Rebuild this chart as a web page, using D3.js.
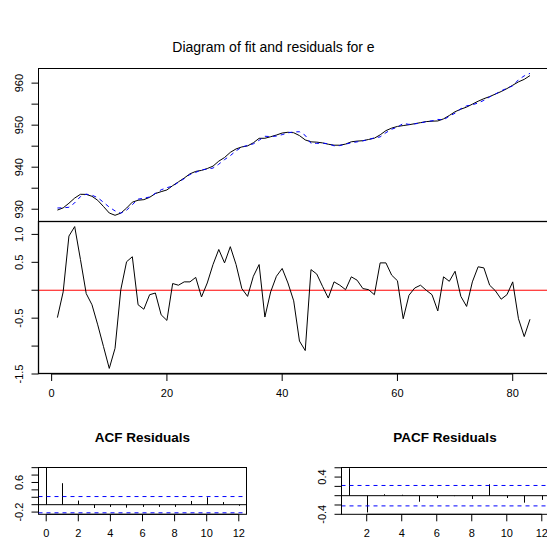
<!DOCTYPE html>
<html><head><meta charset="utf-8">
<script src="https://cdn.jsdelivr.net/npm/d3@7"></script>
<style>body{margin:0;background:#fff}svg{display:block}text{font-family:"Liberation Sans",Arial,Helvetica,sans-serif;fill:#000}</style>
</head><body>
<script>
// ---- data ----
const actual = [929.80,930.32,931.43,932.66,933.55,933.53,933.08,932.12,930.64,929.10,928.56,929.07,930.27,931.68,932.14,932.28,932.83,933.73,934.18,934.59,935.61,936.51,937.42,938.42,939.00,939.24,939.68,940.25,941.44,942.30,943.53,944.35,944.82,945.07,945.81,946.87,946.88,947.25,947.65,948.13,948.31,948.20,947.52,946.49,946.03,945.96,945.78,945.46,945.24,945.23,945.50,946.05,946.21,946.30,946.60,946.90,947.70,948.70,949.30,949.70,949.90,950.10,950.35,950.60,950.85,950.95,951.00,951.50,952.30,953.20,953.80,954.30,955.00,955.70,956.30,956.80,957.40,958.00,958.70,959.50,960.30,960.90,961.80];
const fitted = [930.29,930.35,930.46,931.52,933.00,933.59,933.34,932.74,931.65,930.50,929.60,929.06,929.76,931.08,932.40,932.62,932.91,933.78,934.62,935.13,935.49,936.42,937.27,938.27,938.77,939.36,939.55,939.79,940.71,941.81,942.75,943.89,944.79,945.18,945.56,946.41,947.36,947.28,947.40,947.74,948.18,948.39,948.43,947.57,945.66,945.67,945.71,945.60,945.09,945.14,945.49,945.81,946.03,946.27,946.59,946.98,947.21,948.21,949.03,949.53,950.41,950.19,950.31,950.51,950.85,951.03,951.37,951.26,952.14,952.86,953.91,954.59,954.85,955.28,955.90,956.71,957.41,958.16,958.78,959.35,960.81,961.73,962.32];
const resid = [-0.49,-0.03,0.97,1.14,0.55,-0.06,-0.26,-0.62,-1.01,-1.40,-1.04,0.01,0.51,0.60,-0.26,-0.34,-0.08,-0.05,-0.44,-0.54,0.12,0.09,0.15,0.15,0.23,-0.12,0.13,0.46,0.73,0.49,0.78,0.46,0.03,-0.11,0.25,0.46,-0.48,-0.03,0.25,0.39,0.13,-0.19,-0.91,-1.08,0.37,0.29,0.07,-0.14,0.15,0.09,0.01,0.24,0.18,0.03,0.01,-0.08,0.49,0.49,0.27,0.17,-0.51,-0.09,0.04,0.09,0.00,-0.08,-0.37,0.24,0.16,0.34,-0.11,-0.29,0.15,0.42,0.40,0.09,-0.01,-0.16,-0.08,0.15,-0.51,-0.83,-0.52];
const acfLags = [0,1,2,3,4,5,6,7,8,9,10,11,12];
const acfVals = [1.00,0.58,0.11,-0.09,-0.06,-0.08,-0.06,-0.06,-0.06,0.10,0.20,0.07,-0.03];
const pacfLags = [1,2,3,4,5,6,7,8,9,10,11,12];
const pacfVals = [0.59,-0.36,0.03,0.02,-0.13,-0.05,-0.01,-0.07,0.245,-0.05,-0.15,-0.09];
const confLimit = 0.2195;
const topTicks = [930,935,940,945,950,955,960];
const topLabels = [930,940,950,960];
const resTicks = [-1.5,-1.0,-0.5,0,0.5,1.0];
const resLabels = [-1.5,-0.5,0.5,1.0];
const timeTicks = [0,20,40,60,80];
const acfYTicks = [-0.2,0,0.2,0.4,0.6,0.8,1.0];
const acfYLabels = [-0.2,0.6];
const acfXTicks = [0,2,4,6,8,10,12];
const pacfYTicks = [-0.4,-0.2,0,0.2,0.4,0.6];
const pacfYLabels = [-0.4,0.4];
const pacfXTicks = [2,4,6,8,10,12];
const title = "Diagram of fit and residuals for e";

const W=547,H=541;
const svg=d3.select("body").append("svg").attr("width",W).attr("height",H);
const t = d3.range(1, actual.length+1);

svg.append("text").attr("x",273.5).attr("y",52).attr("text-anchor","middle").style("font-size","14px").text(title);

const x = d3.scaleLinear().domain([-2.28,86.28]).range([38.5,548.9]);
const yTop = d3.scaleLinear().domain([927.2,963.6]).range([221,68]);
const yRes = d3.scaleLinear().domain([-1.50,1.24]).range([374,221]);

function yAxisLeft(g, scale, ticks, labels, xPos, fmt){
  g.append("line").attr("x1",xPos).attr("x2",xPos).attr("y1",scale(d3.min(ticks))).attr("y2",scale(d3.max(ticks))).attr("stroke","#000");
  ticks.forEach(v=>{
    g.append("line").attr("x1",xPos-7).attr("x2",xPos).attr("y1",scale(v)).attr("y2",scale(v)).attr("stroke","#000");
  });
  labels.forEach(v=>{
    g.append("text").attr("transform",`translate(${xPos-15.5},${scale(v)}) rotate(-90)`).attr("text-anchor","middle").style("font-size","11px").text(fmt(v));
  });
}
function xAxisBottom(g, scale, ticks, yPos){
  g.append("line").attr("x1",scale(d3.min(ticks))).attr("x2",scale(d3.max(ticks))).attr("y1",yPos).attr("y2",yPos).attr("stroke","#000");
  ticks.forEach(v=>{
    g.append("line").attr("x1",scale(v)).attr("x2",scale(v)).attr("y1",yPos).attr("y2",yPos+7).attr("stroke","#000");
    g.append("text").attr("x",scale(v)).attr("y",yPos+23).attr("text-anchor","middle").style("font-size","11px").text(v);
  });
}
const cr = n=>Math.round(n)+0.5;
const f1 = d=>d3.format(".1f")(d).replace("\u2212","-");

// ---- top panel ----
const gTop = svg.append("g");
gTop.append("rect").attr("x",38.5).attr("y",68.5).attr("width",520).attr("height",153).attr("fill","none").attr("stroke","#000");
gTop.append("path").datum(t).attr("fill","none").attr("stroke","#000").attr("stroke-width",1)
  .attr("d",d3.line().x(d=>x(d)).y((d,i)=>yTop(actual[i])));
gTop.append("path").datum(t).attr("fill","none").attr("stroke","#0000ff").attr("stroke-width",1).attr("stroke-dasharray","4,4")
  .attr("d",d3.line().x(d=>x(d)).y((d,i)=>yTop(fitted[i])));
yAxisLeft(gTop, yTop, topTicks, topLabels, 38.5, d=>d);

// ---- residual panel ----
const gRes = svg.append("g");
gRes.append("rect").attr("x",38.5).attr("y",221.5).attr("width",520).attr("height",152).attr("fill","none").attr("stroke","#000").attr("stroke-width",1.3);
gRes.append("line").attr("x1",38.5).attr("x2",W).attr("y1",yRes(0)).attr("y2",yRes(0)).attr("stroke","#ff0000");
gRes.append("path").datum(t).attr("fill","none").attr("stroke","#000").attr("stroke-width",1)
  .attr("d",d3.line().x(d=>x(d)).y((d,i)=>yRes(resid[i])));
yAxisLeft(gRes, yRes, resTicks, resLabels, 38.5, f1);
xAxisBottom(gRes, x, timeTicks, 374);

// ---- ACF panel ----
const xA = d3.scaleLinear().domain([-0.48,12.48]).range([38.5,246.5]);
const yA = d3.scaleLinear().domain([-0.26,1.01]).range([514.3,467.3]);
const gA = svg.append("g");
svg.append("text").attr("x",142.5).attr("y",441.5).attr("text-anchor","middle").style("font-size","13.5px").style("font-weight","bold").text("ACF Residuals");
gA.append("rect").attr("x",38.5).attr("y",467.5).attr("width",208).attr("height",46.8).attr("fill","none").attr("stroke","#000");
gA.append("line").attr("x1",38.5).attr("x2",246.5).attr("y1",yA(0)).attr("y2",yA(0)).attr("stroke","#000");
acfLags.forEach((l,i)=>{
  gA.append("line").attr("x1",cr(xA(l))).attr("x2",cr(xA(l))).attr("y1",yA(0)).attr("y2",yA(acfVals[i])).attr("stroke","#000");
});
[confLimit,-confLimit].forEach(c=>{
  gA.append("line").attr("x1",38.5).attr("x2",246.5).attr("y1",yA(c)).attr("y2",yA(c)).attr("stroke","#0000ff").attr("stroke-dasharray","4,4");
});
yAxisLeft(gA, yA, acfYTicks, acfYLabels, 38.5, f1);
xAxisBottom(gA, xA, acfXTicks, 514.3);

// ---- PACF panel ----
const xP = d3.scaleLinear().domain([0.56,12.44]).range([341.5,549.5]);
const yP = d3.scaleLinear().domain([-0.40,0.61]).range([514.3,467.3]);
const gP = svg.append("g");
svg.append("text").attr("x",445).attr("y",441.5).attr("text-anchor","middle").style("font-size","13.5px").style("font-weight","bold").text("PACF Residuals");
gP.append("rect").attr("x",341.5).attr("y",467.5).attr("width",210).attr("height",46.8).attr("fill","none").attr("stroke","#000");
gP.append("line").attr("x1",341.5).attr("x2",W).attr("y1",yP(0)).attr("y2",yP(0)).attr("stroke","#000");
pacfLags.forEach((l,i)=>{
  gP.append("line").attr("x1",cr(xP(l))).attr("x2",cr(xP(l))).attr("y1",yP(0)).attr("y2",yP(pacfVals[i])).attr("stroke","#000");
});
[confLimit,-confLimit].forEach(c=>{
  gP.append("line").attr("x1",341.5).attr("x2",W).attr("y1",yP(c)).attr("y2",yP(c)).attr("stroke","#0000ff").attr("stroke-dasharray","4,4");
});
yAxisLeft(gP, yP, pacfYTicks, pacfYLabels, 341.5, f1);
xAxisBottom(gP, xP, pacfXTicks, 514.3);
</script>
</body></html>
